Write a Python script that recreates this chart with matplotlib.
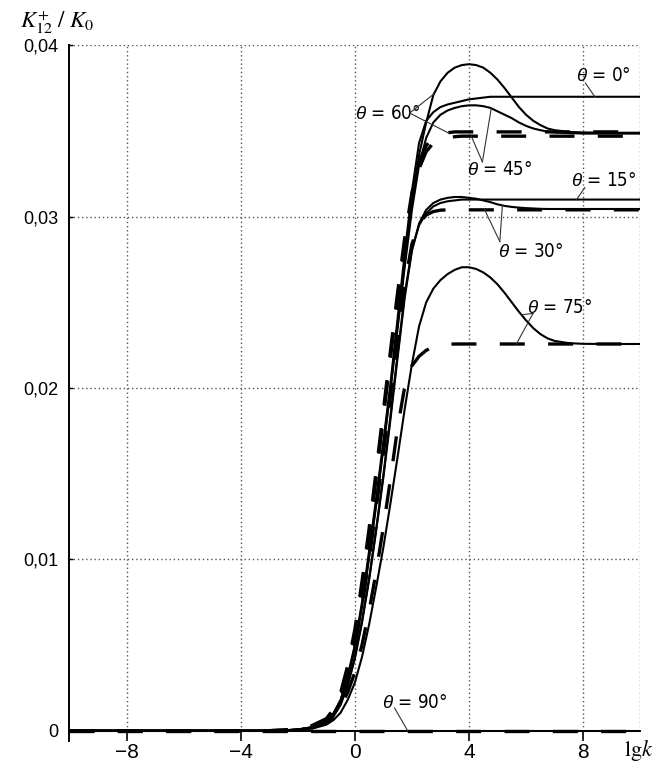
import matplotlib
matplotlib.use("Agg")
import matplotlib.pyplot as plt
from matplotlib import font_manager
import numpy as np

# lg k grid shared by every curve
lgk = [-10, -3, -2.5, -2, -1.5, -1, -0.75, -0.5, -0.25, 0,
       0.25, 0.5, 0.75, 1, 1.25, 1.5, 1.75, 2, 2.25, 2.5,
       2.75, 3, 3.25, 3.5, 3.75, 4, 4.25, 4.5, 4.75, 5,
       5.25, 5.5, 5.75, 6, 6.25, 6.5, 6.75, 7, 7.5, 8,
       9, 10]

# K12+/K0 in units of 1e-3, solid curves
theta0 = [0, 0, 0.02, 0.07, 0.2, 0.55, 1.0, 1.8, 3.2, 5.0,
          7.5, 10.5, 13.6, 16.9, 20.3, 24.1, 27.9, 31.5, 34.3, 35.6,
          36.1, 36.4, 36.55, 36.65, 36.75, 36.85, 36.9, 36.95, 37.0, 37.0,
          37.0, 37.0, 37.0, 37.0, 37.0, 37.0, 37.0, 37.0, 37.0, 37.0,
          37.0, 37.0]
theta15 = [0, 0, 0.02, 0.06, 0.18, 0.48, 0.85, 1.55, 2.7, 4.3,
           6.4, 8.9, 11.8, 14.9, 18.4, 22.0, 25.5, 28.1, 29.5, 30.2,
           30.6, 30.8, 30.9, 30.95, 31.0, 31.0, 31.0, 31.0, 31.0, 31.0,
           31.0, 31.0, 31.0, 31.0, 31.0, 31.0, 31.0, 31.0, 31.0, 31.0,
           31.0, 31.0]
theta30 = [0, 0, 0.02, 0.06, 0.18, 0.47, 0.83, 1.5, 2.65, 4.2,
           6.3, 8.8, 11.7, 14.8, 18.2, 21.8, 25.3, 28.0, 29.6, 30.4,
           30.8, 31.0, 31.1, 31.15, 31.15, 31.1, 31.05, 30.95, 30.85, 30.72,
           30.63, 30.57, 30.53, 30.5, 30.48, 30.46, 30.45, 30.45, 30.45, 30.45,
           30.45, 30.45]
theta45 = [0, 0, 0.02, 0.07, 0.2, 0.55, 1.0, 1.75, 3.05, 4.85,
           7.2, 10.1, 13.2, 16.5, 19.9, 23.5, 27.1, 30.4, 33.0, 34.6,
           35.5, 35.95, 36.2, 36.35, 36.45, 36.5, 36.5, 36.45, 36.35, 36.15,
           35.95, 35.75, 35.5, 35.3, 35.15, 35.05, 34.97, 34.92, 34.88, 34.85,
           34.85, 34.85]
theta60 = [0, 0, 0.02, 0.07, 0.2, 0.55, 1.0, 1.75, 3.1, 4.9,
           7.3, 10.2, 13.3, 16.6, 20.0, 23.7, 27.4, 30.9, 33.6, 35.5,
           37.1, 37.9, 38.4, 38.7, 38.85, 38.9, 38.85, 38.7, 38.4, 38.0,
           37.5, 36.95, 36.4, 35.95, 35.6, 35.35, 35.15, 35.05, 34.95, 34.92,
           34.9, 34.9]
theta75 = [0, 0, 0.01, 0.04, 0.12, 0.35, 0.62, 1.05, 1.8, 2.8,
           4.3, 6.2, 8.4, 10.7, 13.3, 16.0, 18.8, 21.4, 23.6, 25.0,
           25.8, 26.3, 26.65, 26.9, 27.05, 27.05, 26.95, 26.75, 26.45, 26.05,
           25.55, 25.0, 24.45, 23.95, 23.5, 23.15, 22.9, 22.75, 22.62, 22.58,
           22.57, 22.57]
theta90 = [0] * len(lgk)

# dashed curves
dash60 = [0, 0, 0.03, 0.1, 0.3, 0.7, 1.25, 2.2, 3.8, 5.9,
          8.7, 11.8, 15.2, 18.7, 22.2, 25.6, 28.8, 31.4, 33.2, 34.15,
          34.6, 34.8, 34.9, 34.95, 34.95, 34.95, 34.95, 34.95, 34.95, 34.95,
          34.95, 34.95, 34.95, 34.95, 34.95, 34.95, 34.95, 34.95, 34.95, 34.95,
          34.95, 34.95]
dash45 = [0, 0, 0.03, 0.09, 0.28, 0.65, 1.2, 2.1, 3.6, 5.6,
          8.3, 11.4, 14.8, 18.3, 21.8, 25.2, 28.4, 31.0, 32.8, 33.8,
          34.3, 34.5, 34.6, 34.67, 34.7, 34.7, 34.7, 34.7, 34.7, 34.7,
          34.7, 34.7, 34.7, 34.7, 34.7, 34.7, 34.7, 34.7, 34.7, 34.7,
          34.7, 34.7]
dash30 = [0, 0, 0.02, 0.08, 0.24, 0.6, 1.05, 1.9, 3.3, 5.0,
          7.3, 10.0, 13.0, 16.2, 19.6, 23.0, 26.1, 28.4, 29.6, 30.1,
          30.3, 30.38, 30.4, 30.4, 30.4, 30.4, 30.4, 30.4, 30.4, 30.4,
          30.4, 30.4, 30.4, 30.4, 30.4, 30.4, 30.4, 30.4, 30.4, 30.4,
          30.4, 30.4]
dash75 = [0, 0, 0.02, 0.06, 0.17, 0.45, 0.8, 1.35, 2.25, 3.4,
          5.0, 7.0, 9.3, 11.9, 14.7, 17.7, 20.1, 21.3, 21.85, 22.2,
          22.4, 22.5, 22.55, 22.57, 22.57, 22.57, 22.57, 22.57, 22.57, 22.57,
          22.57, 22.57, 22.57, 22.57, 22.57, 22.57, 22.57, 22.57, 22.57, 22.57,
          22.57, 22.57]
dash90 = [0] * len(lgk)

solid = [theta0, theta15, theta30, theta45, theta60, theta75, theta90]
dashed = [dash60, dash45, dash30, dash75, dash90]

xticks = [-8, -4, 0, 4, 8]
xlabels = ["\u22128", "\u22124", "0", "4", "8"]
yticks = [0, 0.01, 0.02, 0.03, 0.04]
ylabels = ["0", "0,01", "0,02", "0,03", "0,04"]

# pick a narrow face for the curve labels if one is installed
fonts = font_manager.fontManager.ttflist
names = {f.name for f in fonts}
if "Liberation Sans Narrow" in names:
    narrow, stretch, lab_size = "Liberation Sans Narrow", "normal", 15
elif any(f.name == "DejaVu Sans" and f.stretch == "condensed" for f in fonts):
    narrow, stretch, lab_size = "DejaVu Sans", "condensed", 13.5
else:
    narrow, stretch, lab_size = "Liberation Sans", "normal", 13

plt.rcParams["mathtext.fontset"] = "custom"
plt.rcParams["mathtext.it"] = "Liberation Sans:italic"
plt.rcParams["mathtext.rm"] = "Liberation Sans"

x = np.array(lgk, dtype=float)

fig = plt.figure(figsize=(6.72, 7.65), dpi=100)
ax = fig.add_axes([0.1034, 0.0314, 0.8493, 0.9093])
ax.set_xlim(-10, 10)
ax.set_ylim(-0.0006, 0.04)

# dotted grid, stopping at the zero line
for gx in xticks + [10]:
    ax.plot([gx, gx], [0, 0.04], color="#555555", lw=1.0,
            linestyle=(0, (1, 2)), zorder=1)
for gy in yticks[1:]:
    ax.plot([-10, 10], [gy, gy], color="#555555", lw=1.0,
            linestyle=(0, (1, 2)), zorder=1)

for ys in solid:
    ax.plot(x, np.array(ys) * 1e-3, color="black", lw=1.5, zorder=3)
for ys in dashed:
    ax.plot(x, np.array(ys) * 1e-3, color="black", lw=2.4,
            dashes=(7.5, 7), zorder=4)

for s in ["top", "right"]:
    ax.spines[s].set_visible(False)
ax.spines["bottom"].set_position(("data", 0))
ax.spines["left"].set_linewidth(1.4)
ax.spines["bottom"].set_linewidth(1.4)

ax.set_xticks(xticks)
ax.set_xticklabels(xlabels, fontfamily="Liberation Sans", fontsize=15)
ax.set_yticks(yticks)
ax.set_yticklabels(ylabels, fontfamily="Liberation Sans", fontsize=13)
ax.tick_params(axis="x", direction="out", length=7.5, width=1.2, pad=1)
ax.tick_params(axis="y", direction="in", length=3, width=1.0, pad=8)


def on_curve(xp, ys):
    return xp, np.interp(xp, x, np.array(ys) * 1e-3)


# curve labels and their leader lines
labels = [
    (r"$\theta$ = 0°", 8.69, 0.03827, (8.08, 0.0378), [(8.41, theta0)]),
    (r"$\theta$ = 15°", 8.73, 0.03214, (8.06, 0.0317), [(7.77, theta15)]),
    (r"$\theta$ = 60°", 1.14, 0.03605, (1.92, 0.03605),
     [(2.77, theta60), (3.26, dash60)]),
    (r"$\theta$ = 45°", 5.08, 0.03273, (4.47, 0.0332),
     [(4.78, theta45), (4.08, dash45)]),
    (r"$\theta$ = 30°", 6.16, 0.02796, (5.08, 0.02855),
     [(4.55, dash30), (5.17, theta30)]),
    (r"$\theta$ = 75°", 7.18, 0.0247, (6.245, 0.02436),
     [(5.84, theta75), (5.66, dash75)]),
    (r"$\theta$ = 90°", 2.1, 0.00165, (1.39, 0.00133), [(1.85, theta90)]),
]
for text, tx, ty, start, ends in labels:
    ax.text(tx, ty, text, fontfamily=narrow, fontstretch=stretch,
            fontsize=lab_size, ha="center", va="center", zorder=5)
    for xp, ys in ends:
        ex, ey = on_curve(xp, ys)
        ax.plot([start[0], ex], [start[1], ey], color="#333333", lw=0.8, zorder=5)

fig.text(0.0298, 0.9705, r"$K_{12}^{+}\ /\ K_{0}$", fontsize=16.5,
         math_fontfamily="stix", ha="left", va="center")
fig.text(0.951, 0.0196, r"$\mathrm{lg}k$", fontsize=16,
         math_fontfamily="stix", ha="center", va="center")

fig.savefig("out.png", dpi=100)
